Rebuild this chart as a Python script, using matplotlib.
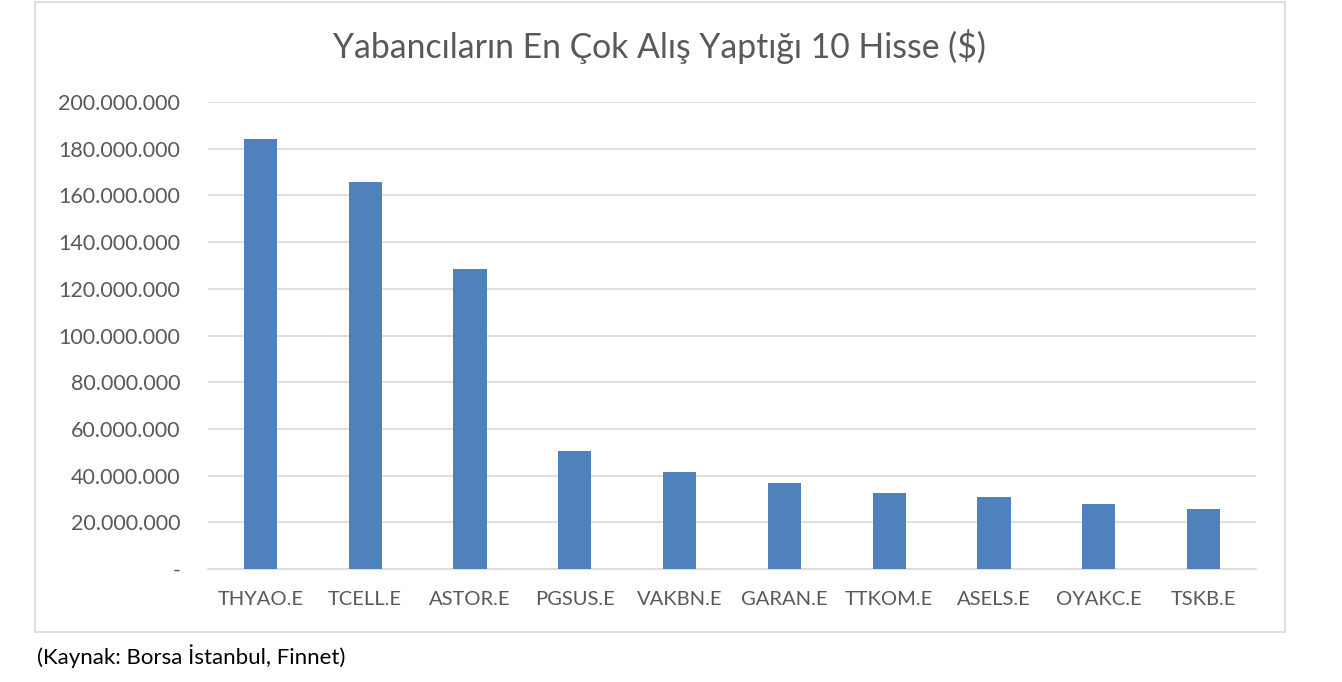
import matplotlib
matplotlib.use("Agg")
import matplotlib.pyplot as plt
from matplotlib.patches import Rectangle
from matplotlib.ticker import FuncFormatter

categories = ["THYAO.E", "TCELL.E", "ASTOR.E", "PGSUS.E", "VAKBN.E",
              "GARAN.E", "TTKOM.E", "ASELS.E", "OYAKC.E", "TSKB.E"]
values = [184.2e6, 165.7e6, 128.3e6, 50.4e6, 41.5e6,
          36.8e6, 32.7e6, 31.0e6, 28.0e6, 25.6e6]
yticks = [0, 20e6, 40e6, 60e6, 80e6, 100e6, 120e6, 140e6, 160e6, 180e6, 200e6]
title = "Yabancıların En Çok Alış Yaptığı 10 Hisse ($)"
caption = "(Kaynak: Borsa İstanbul, Finnet)"

plt.rcParams['font.family'] = ['Lato', 'DejaVu Sans']
W, H = 1342, 682
fig = plt.figure(figsize=(W / 100, H / 100), dpi=100)
fig.patch.set_facecolor("white")

# chart frame
fig.patches.append(Rectangle((35 / W, 1 - 632 / H), (1285 - 35) / W, (632 - 2) / H,
                             transform=fig.transFigure, fill=False,
                             edgecolor="#d9d9d9", linewidth=1.2))

ax = fig.add_axes([208 / W, 1 - 569 / H, (1256 - 208) / W, (569 - 102) / H])
x = range(len(categories))
ax.bar(x, values, width=0.315, color="#4f81bd", zorder=3)
ax.set_xlim(-0.5, len(categories) - 0.5)
ax.set_ylim(0, 200e6)
ax.set_yticks(yticks)

def fmt(v, pos):
    if v == 0:
        return "-"
    return f"{int(round(v)):,}".replace(",", ".")

ax.yaxis.set_major_formatter(FuncFormatter(fmt))
ax.set_xticks(list(x))
ax.set_xticklabels(categories)
ax.grid(axis="y", color="#d9d9d9", linewidth=1.2, zorder=0)
for s in ["top", "right", "left"]:
    ax.spines[s].set_visible(False)
ax.spines["bottom"].set_color("#d9d9d9")
ax.spines["bottom"].set_linewidth(1.2)
ax.tick_params(axis="y", length=0, labelsize=15.5, colors="#595959", pad=20)
ax.tick_params(axis="x", length=0, labelsize=14.5, colors="#595959", pad=16)

fig.text(659 / W, 1 - 47 / H, title, ha="center", va="center",
         fontsize=24.3, color="#595959")
fig.text(37 / W, 1 - 656 / H, caption, ha="left", va="center",
         fontsize=16, color="#000000")

fig.savefig("out.png", dpi=100)
